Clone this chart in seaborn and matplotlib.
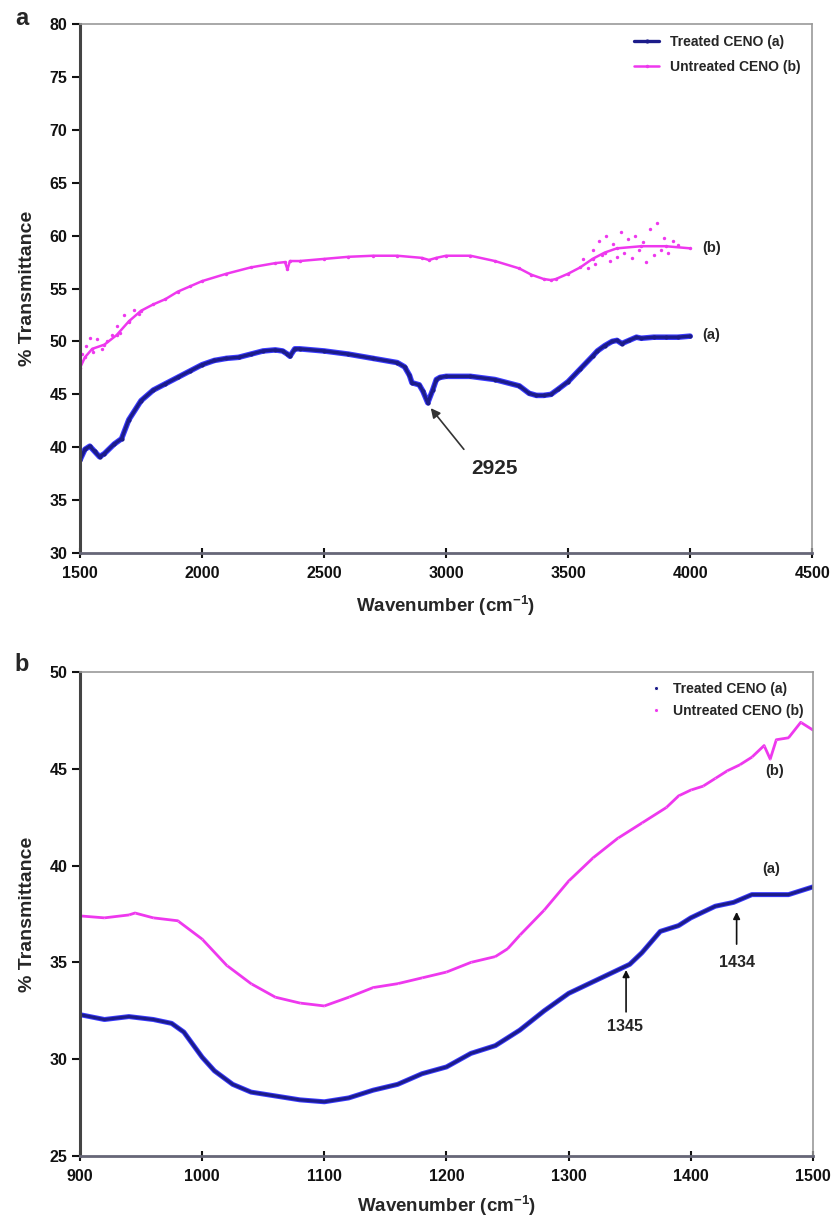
import pandas as pd
import seaborn as sns
import matplotlib.pyplot as plt

# ---- panel a: 1500-4000 cm-1 ----
wn_a = [1500, 1520, 1540, 1560, 1580, 1600, 1640, 1670, 1700, 1750, 1800, 1850, 1900,
        1950, 2000, 2050, 2100, 2150, 2200, 2250, 2300, 2330, 2350, 2360, 2380, 2400,
        2500, 2600, 2700, 2800, 2830, 2850, 2860, 2890, 2905, 2925, 2945, 2960, 2975,
        3000, 3100, 3200, 3300, 3340, 3370, 3400, 3430, 3460, 3500, 3550, 3600, 3620,
        3650, 3680, 3700, 3720, 3750, 3780, 3800, 3850, 3900, 3950, 4000]
treated_a = [38.8, 39.8, 40.1, 39.6, 39.1, 39.4, 40.3, 40.8, 42.6, 44.4, 45.4, 46.0, 46.6,
             47.2, 47.8, 48.2, 48.4, 48.5, 48.8, 49.1, 49.2, 49.1, 48.8, 48.6, 49.3, 49.3,
             49.1, 48.8, 48.4, 48.0, 47.6, 46.8, 46.1, 45.9, 45.3, 44.2, 45.4, 46.4, 46.6,
             46.7, 46.7, 46.4, 45.8, 45.1, 44.9, 44.9, 45.0, 45.5, 46.2, 47.4, 48.6, 49.1,
             49.6, 50.0, 50.1, 49.8, 50.1, 50.4, 50.3, 50.4, 50.4, 50.4, 50.5]

wn_b = [1500, 1520, 1550, 1600, 1650, 1700, 1750, 1800, 1850, 1900, 1950, 2000, 2100,
        2200, 2300, 2340, 2350, 2360, 2400, 2500, 2600, 2700, 2800, 2900, 2930, 2960,
        3000, 3100, 3200, 3300, 3350, 3400, 3430, 3450, 3500, 3550, 3600, 3650, 3700,
        3800, 3900, 4000]
untreated_a = [47.5, 48.5, 49.3, 49.7, 50.6, 51.9, 52.9, 53.5, 54.0, 54.7, 55.2, 55.7, 56.4,
               57.0, 57.4, 57.5, 56.8, 57.6, 57.6, 57.8, 58.0, 58.1, 58.1, 57.9, 57.7, 57.9,
               58.1, 58.1, 57.6, 56.9, 56.3, 55.9, 55.8, 55.9, 56.4, 57.0, 57.8, 58.4, 58.8,
               59.0, 59.0, 58.8]

# scattered noisy points of the untreated trace
noise_wn = [1510, 1525, 1540, 1555, 1570, 1590, 1610, 1630, 1650, 1665, 1680, 1700, 1720,
            1740, 3560, 3580, 3600, 3610, 3625, 3640, 3655, 3670, 3685, 3700, 3715, 3730,
            3745, 3760, 3775, 3790, 3805, 3820, 3835, 3850, 3865, 3880, 3895, 3910, 3930,
            3950]
noise_val = [48.8, 49.6, 50.3, 49.0, 50.2, 49.3, 50.0, 50.6, 51.5, 50.8, 52.5, 51.8, 53.0,
             52.6, 57.8, 56.9, 58.6, 57.3, 59.5, 58.2, 60.0, 57.6, 59.2, 58.0, 60.3, 58.4,
             59.7, 57.9, 60.0, 58.6, 59.4, 57.5, 60.6, 58.2, 61.2, 58.6, 59.8, 58.4, 59.5,
             59.1]

# ---- panel b: 900-1500 cm-1 ----
wn_c = [900, 920, 940, 960, 975, 985, 1000, 1010, 1025, 1040, 1060, 1080, 1100, 1120,
        1140, 1160, 1180, 1200, 1220, 1240, 1260, 1280, 1300, 1320, 1340, 1350, 1360,
        1375, 1390, 1400, 1420, 1435, 1450, 1480, 1500]
treated_b = [32.3, 32.05, 32.2, 32.05, 31.85, 31.4, 30.1, 29.4, 28.7, 28.3, 28.1, 27.9,
             27.8, 28.0, 28.4, 28.7, 29.25, 29.6, 30.3, 30.7, 31.5, 32.5, 33.4, 34.0,
             34.6, 34.9, 35.5, 36.6, 36.9, 37.3, 37.9, 38.1, 38.5, 38.5, 38.9]

wn_d = [900, 920, 940, 945, 960, 980, 1000, 1020, 1040, 1060, 1080, 1100, 1120, 1140,
        1160, 1180, 1200, 1220, 1240, 1250, 1260, 1280, 1300, 1320, 1340, 1360, 1380,
        1390, 1400, 1410, 1420, 1430, 1440, 1450, 1460, 1465, 1470, 1480, 1490, 1500]
untreated_b = [37.4, 37.3, 37.45, 37.55, 37.3, 37.15, 36.2, 34.85, 33.9, 33.2, 32.9, 32.75,
               33.2, 33.7, 33.9, 34.2, 34.5, 35.0, 35.3, 35.7, 36.4, 37.7, 39.2, 40.4,
               41.4, 42.2, 43.0, 43.6, 43.9, 44.1, 44.5, 44.9, 45.2, 45.6, 46.2, 45.5,
               46.5, 46.6, 47.4, 47.0]

blue = "#1c1c8a"
edge = "#3a3aff"
pink = "#ee38ee"

sns.set_style("white")
plt.rcParams["font.family"] = ["Liberation Sans", "DejaVu Sans"]
plt.rcParams["font.weight"] = "bold"
plt.rcParams["mathtext.fontset"] = "custom"
plt.rcParams["mathtext.bf"] = "Liberation Sans:bold"
plt.rcParams["mathtext.rm"] = "Liberation Sans:bold"
plt.rcParams["mathtext.default"] = "bf"

fig = plt.figure(figsize=(8.31, 12.26), dpi=100)
ax1 = fig.add_axes([0.0963, 0.5489, 0.881, 0.4315])
ax2 = fig.add_axes([0.0963, 0.0571, 0.882, 0.3948])


def style_axes(ax, pad):
    for side in ["top", "right"]:
        ax.spines[side].set_color("#999999")
        ax.spines[side].set_linewidth(1.2)
    ax.spines["left"].set_color("#444444")
    ax.spines["left"].set_linewidth(2.2)
    ax.spines["bottom"].set_color("#666677")
    ax.spines["bottom"].set_linewidth(2.0)
    ax.tick_params(axis="y", direction="out", length=6, width=1.5, left=True,
                   labelsize=11.5, pad=3, colors="#111111")
    ax.tick_params(axis="x", direction="inout", length=7, width=1.5, bottom=True,
                   labelsize=11.5, pad=6, colors="#111111")
    for lab in ax.get_xticklabels() + ax.get_yticklabels():
        lab.set_fontweight("bold")
    ax.set_xlabel("Wavenumber (cm$^{-1}$)", fontsize=13.5, fontweight="bold", labelpad=pad)
    ax.set_ylabel("% Transmittance", fontsize=14, fontweight="bold", labelpad=10)


# panel a
df_ta = pd.DataFrame({"wn": wn_a, "T": treated_a})
df_ua = pd.DataFrame({"wn": wn_b, "T": untreated_a})
df_na = pd.DataFrame({"wn": noise_wn, "T": noise_val})
sns.lineplot(data=df_ta, x="wn", y="T", ax=ax1, color=edge, lw=4.0, sort=False)
sns.lineplot(data=df_ta, x="wn", y="T", ax=ax1, color=blue, lw=2.4, sort=False,
             label="Treated CENO (a)", marker="o", markersize=3, markeredgewidth=0)
sns.lineplot(data=df_ua, x="wn", y="T", ax=ax1, color=pink, lw=1.8, sort=False,
             label="Untreated CENO (b)", marker="o", markersize=2.5, markeredgewidth=0)
sns.scatterplot(data=df_na, x="wn", y="T", ax=ax1, color=pink, s=6, linewidth=0)
ax1.set_xlim(1500, 4500)
ax1.set_ylim(30, 80)
ax1.set_xticks(range(1500, 4501, 500))
ax1.set_yticks(range(30, 81, 5))
style_axes(ax1, 9)
ax1.legend(loc="upper right", frameon=False, borderaxespad=0.4,
           handlelength=1.8, labelspacing=0.8, prop={"weight": "bold", "size": 10})
ax1.text(4050, 50.6, "(a)", fontsize=10.5, fontweight="bold", va="center")
ax1.text(4050, 58.8, "(b)", fontsize=10.5, fontweight="bold", va="center")
ax1.annotate("", xy=(2930, 43.9), xytext=(3080, 39.6),
             arrowprops=dict(arrowstyle="-|>", color="#333333", lw=1.2, mutation_scale=14))
ax1.text(3200, 38.0, "2925", fontsize=15, fontweight="bold", ha="center", va="center")

# panel b
df_tb = pd.DataFrame({"wn": wn_c, "T": treated_b})
df_ub = pd.DataFrame({"wn": wn_d, "T": untreated_b})
sns.lineplot(data=df_tb, x="wn", y="T", ax=ax2, color=edge, lw=3.6, sort=False)
sns.lineplot(data=df_tb, x="wn", y="T", ax=ax2, color=blue, lw=2.2, sort=False,
             label="Treated CENO (a)", marker="o", markersize=0.1, linestyle="none")
sns.lineplot(data=df_tb, x="wn", y="T", ax=ax2, color=blue, lw=2.2, sort=False)
sns.lineplot(data=df_ub, x="wn", y="T", ax=ax2, color=pink, lw=2.0, sort=False)
sns.lineplot(data=df_ub, x="wn", y="T", ax=ax2, color=pink, sort=False,
             label="Untreated CENO (b)", marker="o", markersize=0.1, linestyle="none")
ax2.set_xlim(900, 1500)
ax2.set_ylim(25, 50)
ax2.set_xticks(range(900, 1501, 100))
ax2.set_yticks(range(25, 51, 5))
style_axes(ax2, 7)
leg = ax2.legend(loc="upper right", frameon=False, borderaxespad=0.3,
                 handlelength=0.8, labelspacing=0.6, prop={"weight": "bold", "size": 10})
for h in leg.legend_handles:
    h.set_marker("o")
    h.set_markersize(3)
    h.set_linestyle("none")
ax2.text(1466, 39.8, "(a)", fontsize=10.5, fontweight="bold", ha="center", va="center")
ax2.text(1469, 44.9, "(b)", fontsize=10.5, fontweight="bold", ha="center", va="center")
ax2.annotate("", xy=(1347, 34.75), xytext=(1347, 32.3),
             arrowprops=dict(arrowstyle="-|>", color="#111111", lw=1.2, mutation_scale=10))
ax2.text(1346, 31.7, "1345", fontsize=11.5, fontweight="bold", ha="center", va="center")
ax2.annotate("", xy=(1437.5, 37.75), xytext=(1437.5, 35.8),
             arrowprops=dict(arrowstyle="-|>", color="#111111", lw=1.2, mutation_scale=10))
ax2.text(1438, 35.0, "1434", fontsize=11.5, fontweight="bold", ha="center", va="center")

fig.text(0.018, 0.985, "a", fontsize=17, fontweight="bold", va="center")
fig.text(0.018, 0.458, "b", fontsize=17, fontweight="bold", va="center")

fig.savefig("out.png", dpi=100)
